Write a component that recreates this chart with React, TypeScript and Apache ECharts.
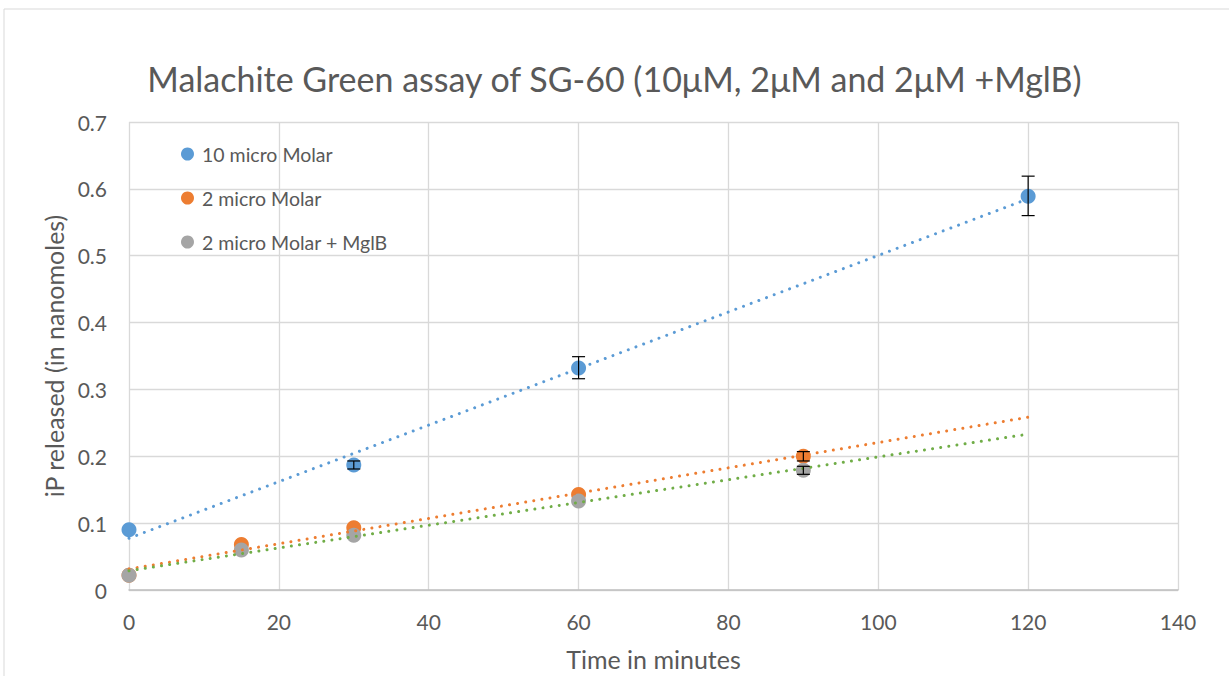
import React, { useEffect, useRef } from "react";
import * as echarts from "echarts";

const TITLE = "Malachite Green assay of SG-60 (10μM, 2μM and 2μM +MglB)";
const SERIES_NAMES = ["10 micro Molar", "2 micro Molar", "2 micro Molar + MglB"];

const x10 = [0, 30, 60, 120];
const y10 = [0.09, 0.187, 0.332, 0.589];
const x2 = [0, 15, 30, 60, 90];
const y2 = [0.022, 0.068, 0.093, 0.143, 0.2];
const x2m = [0, 15, 30, 60, 90];
const y2m = [0.022, 0.06, 0.082, 0.133, 0.179];

// error bars: [x, low, high]
const err10 = [
  [30, 0.181, 0.193],
  [60, 0.316, 0.349],
  [120, 0.56, 0.619],
];
const err2 = [[90, 0.193, 0.207]];
const err2m = [[90, 0.173, 0.185]];

const COLORS = ["#5B9BD5", "#ED7D31", "#A5A5A5"];
const TREND_COLORS = ["#5B9BD5", "#ED7D31", "#70AD47"];
const TREND_END = 120;

function regress(xs: number[], ys: number[]) {
  const n = xs.length;
  const mx = xs.reduce((a, b) => a + b, 0) / n;
  const my = ys.reduce((a, b) => a + b, 0) / n;
  let sxy = 0, sxx = 0;
  for (let i = 0; i < n; i++) {
    sxy += (xs[i] - mx) * (ys[i] - my);
    sxx += (xs[i] - mx) * (xs[i] - mx);
  }
  const slope = sxy / sxx;
  const b = my - slope * mx;
  return [[0, b], [TREND_END, b + slope * TREND_END]];
}

const FONT = "Lato, 'Open Sans', sans-serif";
const TXT = "#595959";

export default function App() {
  const ref = useRef<HTMLDivElement>(null);
  useEffect(() => {
    if (!ref.current) return;
    const chart = echarts.init(ref.current, undefined, { renderer: "svg" });
    const pairs = [
      [x10, y10],
      [x2, y2],
      [x2m, y2m],
    ];
    const errs = [err10, err2, err2m];
    const scatter = pairs.map((p, i) => ({
      name: SERIES_NAMES[i],
      type: "scatter",
      symbol: "circle",
      symbolSize: 15,
      itemStyle: { color: COLORS[i], opacity: 1 },
      data: p[0].map((x, j) => [x, p[1][j]]),
      z: 2 + i,
    }));
    const trends = pairs.map((p, i) => ({
      name: "trend" + i,
      type: "line",
      showSymbol: false,
      symbol: "none",
      data: regress(p[0], p[1]),
      lineStyle: { color: TREND_COLORS[i], width: 3, type: [0.01, 8.2], cap: "round" },
      z: 6,
      silent: true,
    }));
    const errSeries = errs.map((e, i) => ({
      name: "err" + i,
      type: "custom",
      data: e,
      z: 8,
      renderItem: (params: any, api: any) => {
        const x = api.value(0);
        const lo = api.coord([x, api.value(1)]);
        const hi = api.coord([x, api.value(2)]);
        const cw = 6.5;
        const st = { stroke: "#000", lineWidth: 1.2 };
        return {
          type: "group",
          children: [
            { type: "line", shape: { x1: lo[0], y1: lo[1], x2: hi[0], y2: hi[1] }, style: st },
            { type: "line", shape: { x1: lo[0] - cw, y1: lo[1], x2: lo[0] + cw, y2: lo[1] }, style: st },
            { type: "line", shape: { x1: hi[0] - cw, y1: hi[1], x2: hi[0] + cw, y2: hi[1] }, style: st },
          ],
        };
      },
    }));
    chart.setOption({
      animation: false,
      backgroundColor: "#fff",
      title: {
        text: TITLE,
        left: "center",
        top: 56,
        textStyle: { fontFamily: FONT, fontSize: 34, fontWeight: "normal", color: TXT },
      },
      legend: {
        data: SERIES_NAMES,
        orient: "vertical",
        left: 176,
        top: 139,
        icon: "circle",
        itemWidth: 13,
        itemHeight: 13,
        itemGap: 24,
        textStyle: { fontFamily: FONT, fontSize: 19.5, color: TXT, lineHeight: 20, padding: [0, 0, 0, 3] },
      },
      grid: { left: 129, right: 51, top: 122, bottom: 85 },
      xAxis: {
        type: "value",
        min: 0,
        max: 140,
        interval: 20,
        name: "Time in minutes",
        nameLocation: "middle",
        nameGap: 56,
        nameTextStyle: { fontFamily: FONT, fontSize: 25, color: TXT },
        axisLine: { show: true, lineStyle: { color: "#bfbfbf", width: 1.5 } },
        axisTick: { show: false },
        axisLabel: { fontFamily: FONT, fontSize: 21, color: TXT, margin: 21 },
        splitLine: { show: true, lineStyle: { color: "#d9d9d9", width: 1.3 } },
      },
      yAxis: {
        type: "value",
        min: 0,
        max: 0.7,
        interval: 0.1,
        name: "iP released (in nanomoles)",
        nameLocation: "middle",
        nameGap: 62,
        nameTextStyle: { fontFamily: FONT, fontSize: 25, color: TXT },
        axisLine: { show: false },
        axisTick: { show: false },
        axisLabel: { fontFamily: FONT, fontSize: 21, color: TXT, margin: 22 },
        splitLine: { show: true, lineStyle: { color: "#d9d9d9", width: 1.3 } },
      },
      graphic: [
        {
          type: "rect",
          shape: { x: 4, y: 9, width: 1300, height: 700 },
          style: { fill: "none", stroke: "#d9d9d9", lineWidth: 1 },
          silent: true,
          z: -1,
        },
      ],
      series: [...scatter, ...trends, ...errSeries],
    });
    return () => chart.dispose();
  }, []);
  return (
    <div
      ref={ref}
      style={{ position: "fixed", left: 0, top: 0, width: 1229, height: 676, background: "#fff" }}
    />
  );
}
